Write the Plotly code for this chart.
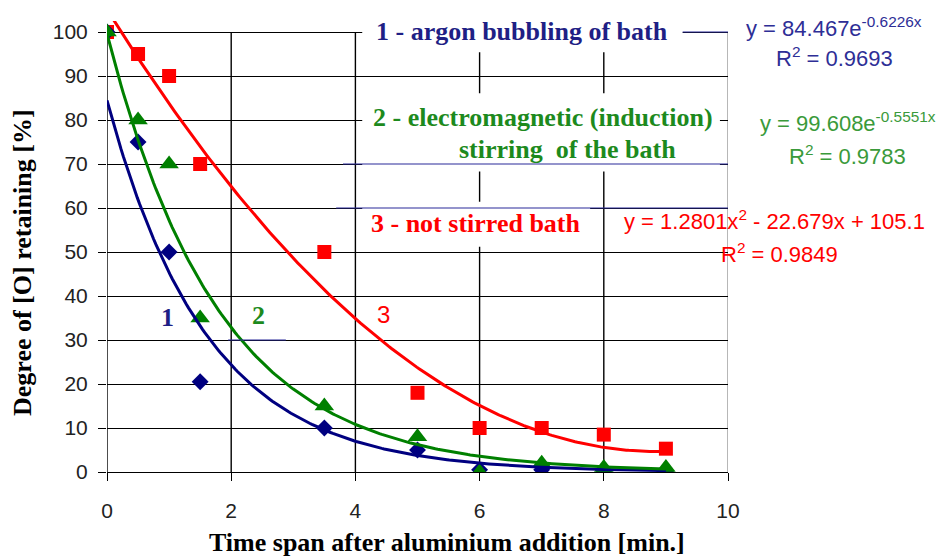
import numpy as np
import plotly.graph_objects as go

# ---- data ----
time_min = [0, 0.5, 1, 1.5, 3.5, 5, 6, 7, 8, 9]
argon = [100, 75, 50, 20.5, 10, 5, 0.5, 0.5, 0, 0]          # 1 - argon bubbling
electromag = [100, 80, 70, 35, 15, 8, 0, 2, 1, 1]            # 2 - electromagnetic stirring
not_stirred = [100, 95, 90, 70, 50, 18, 10, 10, 8.5, 5.3]    # 3 - not stirred

# trendline coefficients as printed on the chart
argon_fit = (84.467, -0.6226)
electromag_fit = (99.608, -0.5551)
not_stirred_fit = (1.2801, -22.679, 105.1)

x_ticks = [0, 2, 4, 6, 8, 10]
y_ticks = [0, 10, 20, 30, 40, 50, 60, 70, 80, 90, 100]

NAVY = "#000080"
GREEN = "#008000"
RED = "#ff0000"
NAVY_TXT = "#1f1f85"
GREEN_TXT = "#1d8a1d"
BLUE_TXT = "#2e2e96"
GREEN_LBL = "#3a9a3a"

xf = np.linspace(0, 9, 241)
y1 = argon_fit[0] * np.exp(argon_fit[1] * xf)
y2 = electromag_fit[0] * np.exp(electromag_fit[1] * xf)
y3 = not_stirred_fit[0] * xf**2 + not_stirred_fit[1] * xf + not_stirred_fit[2]

fig = go.Figure()
# markers
fig.add_trace(go.Scatter(x=time_min, y=not_stirred, mode="markers",
                         marker=dict(symbol="square", size=14, color=RED), showlegend=False))
fig.add_trace(go.Scatter(x=time_min, y=argon, mode="markers",
                         marker=dict(symbol="diamond", size=13, color=NAVY), showlegend=False))
fig.add_trace(go.Scatter(x=time_min, y=electromag, mode="markers",
                         marker=dict(symbol="triangle-up", size=17, color=GREEN), showlegend=False))
# trendlines
fig.add_trace(go.Scatter(x=xf, y=y3, mode="lines", line=dict(color=RED, width=3), showlegend=False))
fig.add_trace(go.Scatter(x=xf, y=y1, mode="lines", line=dict(color=NAVY, width=3), showlegend=False))
fig.add_trace(go.Scatter(x=xf, y=y2, mode="lines", line=dict(color=GREEN, width=3), showlegend=False))

shapes = []
# vertical grid lines (stop at 100)
for xv in x_ticks:
    shapes.append(dict(type="line", xref="x", yref="y", x0=xv, x1=xv, y0=0, y1=100,
                       line=dict(color="#999999" if xv == 10 else "black", width=1.4), layer="below"))
# white text boxes hiding grid lines
for (xa, xb, ya, yb) in [(4.11, 9.27, 95.4, 102.5), (4.11, 9.87, 68.3, 86.1), (4.11, 7.78, 51.2, 61.4)]:
    shapes.append(dict(type="rect", xref="x", yref="y", x0=xa, x1=xb, y0=ya, y1=yb,
                       line=dict(width=0), fillcolor="white", layer="above"))
# stray blue lines in the original
for (xa, xb, yv) in [(9.27, 10, 100), (3.8, 10, 70), (3.69, 10, 60), (1.95, 2.88, 30)]:
    shapes.append(dict(type="line", xref="x", yref="y", x0=xa, x1=xb, y0=yv, y1=yv,
                       line=dict(color="#2a2a9a", width=1.2), layer="above"))

# plot-area geometry in reference pixels (used only to place free text)
PX_L, PX_R, PX_T, PX_B = 107, 728, 21, 472

def px_to_paper(px, py):
    return (px - PX_L) / (PX_R - PX_L), (PX_B - py) / (PX_B - PX_T)

serif = "Liberation Serif"
sans = "Liberation Sans"
ann = []
def A(text, px, py, color, size, family, bold=False, **kw):
    t = f"<b>{text}</b>" if bold else text
    x, y = px_to_paper(px, py)
    ann.append(dict(text=t, x=x, y=y, xref="paper", yref="paper", showarrow=False,
                    font=dict(family=family, size=size, color=color),
                    xanchor="center", yanchor="middle", **kw))

A("1 - argon bubbling of bath", 521.5, 31, NAVY_TXT, 26, serif, True)
A("2 - electromagnetic (induction)", 542.5, 117, GREEN_TXT, 26, serif, True)
A("stirring  of the bath", 567.5, 149, GREEN_TXT, 26, serif, True)
A("3 - not stirred bath", 476, 224, RED, 26, serif, True)
A("1", 167, 318, NAVY_TXT, 26, serif, True)
A("2", 258, 315, GREEN_TXT, 26, serif, True)
A("3", 383, 314, RED, 24, sans)

A("y = 84.467e<sup>-0.6226x</sup>", 834, 27, BLUE_TXT, 22, sans)
A("R<sup>2</sup> = 0.9693", 834.5, 57, BLUE_TXT, 22, sans)
A("y = 99.608e<sup>-0.5551x</sup>", 848, 122, GREEN_LBL, 22, sans)
A("R<sup>2</sup> = 0.9783", 847, 155, GREEN_LBL, 22, sans)
A("y = 1.2801x<sup>2</sup> - 22.679x + 105.1", 775, 220, RED, 22, sans)
A("R<sup>2</sup> = 0.9849", 779, 253, RED, 22, sans)

# axis titles
A("Time span after aluminium addition [min.]", 446.5, 542, "black", 26, serif, True)
A("Degree of [O] retaining [%]", 22, 263, "black", 26, serif, True, textangle=-90)

# the page has an 8px body margin, so the figure is shifted by 8px
OFF = 8
fig.update_layout(
    width=946 - OFF, height=560 - OFF,
    margin=dict(l=PX_L - OFF, r=946 - PX_R, t=PX_T - OFF, b=560 - PX_B, autoexpand=False),
    paper_bgcolor="white", plot_bgcolor="white",
    shapes=shapes, annotations=ann,
    xaxis=dict(range=[0, 10], tickvals=x_ticks, showgrid=False, zeroline=False,
               showline=True, linecolor="black", linewidth=1.4,
               ticks="outside", ticklen=8, tickcolor="black", tickwidth=1.4,
               tickfont=dict(family=sans, size=21, color="#222222"),
               ticklabelstandoff=12, automargin=False),
    yaxis=dict(range=[0, 102.5], tickvals=y_ticks, showgrid=True, gridcolor="black",
               gridwidth=1.4, zeroline=False, showline=False,
               ticks="outside", ticklen=8, tickcolor="black", tickwidth=1.4,
               tickfont=dict(family=sans, size=21, color="#222222"),
               ticklabelstandoff=6, automargin=False),
)

fig.write_html("out.html")
